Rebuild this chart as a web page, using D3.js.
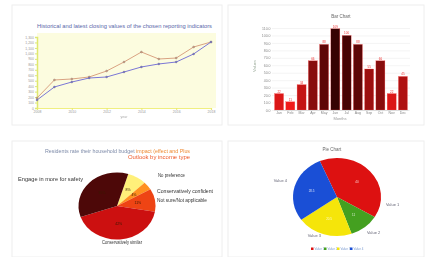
<!DOCTYPE html>
<html>
<head>
<meta charset="utf-8">
<script src="https://cdn.jsdelivr.net/npm/d3@7"></script>
<style>
  body { margin: 0; background: #fff; }
  svg { display: block; font-family: "Liberation Sans", Arial, sans-serif; filter: blur(0.3px); }
</style>
</head>
<body>
<svg id="board" width="428" height="257"></svg>
<script>
// ---- data ----
const years = ['2008', '2009', '2010', '2011', '2012', '2013', '2014', '2015', '2016', '2017', '2018'];
const closingA = [183, 513, 531, 568, 677, 842, 1025, 897, 915, 1117, 1208];
const closingB = [146, 385, 476, 549, 568, 659, 751, 806, 842, 989, 1208];
const lineTicks = [0, 100, 200, 300, 400, 500, 600, 700, 800, 900, 1000, 1100, 1200, 1300];

const months = ['Jan', 'Feb', 'Mar', 'Apr', 'May', 'Jun', 'Jul', 'Aug', 'Sep', 'Oct', 'Nov', 'Dec'];
const monthValues = [22, 11, 34, 66, 88, 109, 100, 88, 55, 66, 22, 45];
const barTicks = [0, 10, 20, 30, 40, 50, 60, 70, 80, 90, 100, 110];

const surveyLabels = ['No preference', 'Conservatively confident', 'Not sure/Not applicable', 'Conservatively similar', 'Engage in more for safety'];
const surveyValues = [8, 4, 11, 42, 35];

const pieLabels = ['Value 1', 'Value 2', 'Value 3', 'Value 4'];
const pieValues = [40, 11, 20.5, 28.5];

const svg = d3.select('#board');

// panel frames
const panels = [[12, 5, 210, 120], [228, 5, 196, 120], [12, 141, 210, 116], [228, 141, 196, 116]];
svg.selectAll('rect.panel').data(panels).enter().append('rect')
    .attr('class', 'panel')
    .attr('x', d => d[0]).attr('y', d => d[1])
    .attr('width', d => d[2]).attr('height', d => d[3])
    .attr('fill', '#fff').attr('stroke', '#eeeeee').attr('stroke-width', 1);

// ---------- top left: line chart ----------
{
    const g = svg.append('g');
    const x = d3.scalePoint().domain(years).range([37, 211]);
    const y = d3.scaleLinear().domain([0, 1300]).range([108, 37]);

    g.append('rect').attr('x', 37).attr('y', 33).attr('width', 179).attr('height', 75)
        .attr('fill', '#fcfcdf');
    g.append('text').text('Historical and latest closing values of the chosen reporting indicators')
        .attr('x', 37).attr('y', 28).attr('textLength', 175).attr('lengthAdjust', 'spacingAndGlyphs')
        .style('font-size', '5px').attr('fill', '#5a68aa');

    const yAxis = g.append('g').attr('transform', 'translate(37,0)')
        .call(d3.axisLeft(y).tickValues(lineTicks).tickSize(2).tickPadding(1));
    yAxis.select('.domain').attr('stroke', '#dfe870').attr('stroke-width', 1.5);
    yAxis.selectAll('line').attr('stroke', '#dfe870');
    yAxis.selectAll('text').style('font-size', '3.5px').attr('fill', '#999');

    const xAxis = g.append('g').attr('transform', 'translate(0,108)')
        .call(d3.axisBottom(x).tickValues(years.filter((d, i) => i % 2 === 0)).tickSize(2).tickPadding(1));
    xAxis.select('.domain').attr('stroke', '#f0ef80').attr('stroke-width', 1.2);
    xAxis.selectAll('line').attr('stroke', '#e8e870');
    xAxis.selectAll('text').style('font-size', '3.5px').attr('fill', '#999');
    g.append('text').text('year').attr('x', 124).attr('y', 118).attr('text-anchor', 'middle')
        .style('font-size', '3.5px').attr('fill', '#aaa');

    const line = d3.line().x((d, i) => x(years[i])).y(d => y(d));
    [[closingA, '#d9a282'], [closingB, '#7a76d6']].forEach(([vals, col]) => {
        g.append('path').datum(vals).attr('d', line)
            .attr('fill', 'none').attr('stroke', col).attr('stroke-width', 1);
        g.selectAll(null).data(vals).enter().append('circle')
            .attr('cx', (d, i) => x(years[i])).attr('cy', d => y(d)).attr('r', 1)
            .attr('fill', col).attr('stroke', '#666').attr('stroke-width', 0.3);
    });
}

// ---------- top right: bar chart ----------
{
    const g = svg.append('g');
    const x = d3.scaleBand().domain(months).range([274, 408]).paddingInner(0.2).paddingOuter(0.05);
    const y = d3.scaleLinear().domain([0, 110]).range([110, 28]);
    const color = d3.scaleLinear().domain([11, 109]).range(['#f01a1a', '#360202']);

    g.append('text').text('Bar Chart').attr('x', 341).attr('y', 18).attr('text-anchor', 'middle')
        .style('font-size', '4.5px').attr('fill', '#666');

    const yAxis = g.append('g').attr('transform', 'translate(272,0)')
        .call(d3.axisLeft(y).tickValues(barTicks).tickSize(-138).tickPadding(1.5).tickFormat(d3.format('.1f')));
    yAxis.select('.domain').remove();
    yAxis.selectAll('line').attr('stroke', '#ececec').attr('stroke-width', 0.6);
    yAxis.selectAll('text').style('font-size', '3.5px').attr('fill', '#888');
    g.append('text').text('Values').attr('transform', 'translate(256,66) rotate(-90)')
        .attr('text-anchor', 'middle').style('font-size', '4px').attr('fill', '#9aaa99');

    g.selectAll('rect.bar').data(monthValues).enter().append('rect')
        .attr('class', 'bar')
        .attr('x', (d, i) => x(months[i])).attr('y', d => y(d))
        .attr('width', x.bandwidth()).attr('height', d => y(0) - y(d))
        .attr('fill', d => color(d)).attr('stroke', '#ff5555').attr('stroke-width', 0.3);
    g.selectAll('text.val').data(monthValues).enter().append('text')
        .attr('class', 'val').text(d => d)
        .attr('x', (d, i) => x(months[i]) + x.bandwidth() / 2).attr('y', d => y(d) - 1)
        .attr('text-anchor', 'middle').style('font-size', '3px').attr('fill', '#ee3333');

    const xAxis = g.append('g').attr('transform', 'translate(0,110)')
        .call(d3.axisBottom(x).tickSize(0).tickPadding(2));
    xAxis.select('.domain').attr('stroke', '#ddd');
    xAxis.selectAll('text').style('font-size', '3.5px').attr('fill', '#888');
    g.append('text').text('Months').attr('x', 340).attr('y', 120).attr('text-anchor', 'middle')
        .style('font-size', '4px').attr('fill', '#999');
}

// ---------- bottom left: survey pie ----------
{
    const cx = 117, cy = 206, rx = 38.5, ry = 33.5;
    const g = svg.append('g');
    const t1 = g.append('text').attr('x', 45).attr('y', 153).style('font-size', '4.5px');
    t1.append('tspan').text('Residents rate their household budget ').attr('fill', '#7d8aa8');
    t1.append('tspan').text('impact (effect and Plus').attr('fill', '#ee8a33');
    t1.attr('textLength', 145).attr('lengthAdjust', 'spacingAndGlyphs');
    g.append('text').text('Outlook by income type').attr('x', 128).attr('y', 159)
        .attr('textLength', 62).attr('lengthAdjust', 'spacingAndGlyphs')
        .style('font-size', '4.5px').attr('fill', '#ee5a2a');

    const colors = ['#fff07a', '#ff9020', '#ee4414', '#cc1010', '#4d0808'];
    const a0 = 17 * Math.PI / 180;
    const arcs = d3.pie().sort(null).startAngle(a0).endAngle(a0 + 2 * Math.PI)(surveyValues);
    const arc = d3.arc().innerRadius(0).outerRadius(rx);
    g.append('g').attr('transform', `translate(${cx},${cy}) scale(1,${ry / rx})`)
        .selectAll('path').data(arcs).enter().append('path')
        .attr('d', arc).attr('fill', (d, i) => colors[i]);

    const inner = d3.arc().innerRadius(rx * 0.55).outerRadius(rx * 0.55);
    g.selectAll('text.pct').data(arcs).enter().append('text')
        .attr('class', 'pct').text(d => d.data + '%')
        .attr('x', d => cx + inner.centroid(d)[0])
        .attr('y', d => cy + inner.centroid(d)[1] * ry / rx + 1)
        .attr('text-anchor', 'middle').style('font-size', '3.5px').attr('fill', '#3a1a00');

    // label layout: [x, y, anchor, width]
    const labelPos = [[158, 177, 'start', 27], [157, 193, 'start', 56], [157, 202, 'start', 50],
                      [122, 244, 'middle', 40], [83, 181, 'end', 65]];
    g.selectAll('text.lab').data(surveyLabels).enter().append('text')
        .attr('class', 'lab').text(d => d)
        .attr('x', (d, i) => labelPos[i][0]).attr('y', (d, i) => labelPos[i][1])
        .attr('text-anchor', (d, i) => labelPos[i][2])
        .attr('textLength', (d, i) => labelPos[i][3]).attr('lengthAdjust', 'spacingAndGlyphs')
        .style('font-size', '4.5px').attr('fill', '#333');
}

// ---------- bottom right: pie ----------
{
    const cx = 337, cy = 197, rx = 44, ry = 39;
    const g = svg.append('g');
    g.append('text').text('Pie Chart').attr('x', 332).attr('y', 151).attr('text-anchor', 'middle')
        .style('font-size', '4.5px').attr('fill', '#666');

    const colors = ['#dd1111', '#44a020', '#f5e50a', '#1a4fd6'];
    const a0 = -23 * Math.PI / 180;
    const arcs = d3.pie().sort(null).startAngle(a0).endAngle(a0 + 2 * Math.PI)(pieValues);
    const arc = d3.arc().innerRadius(0).outerRadius(rx);
    g.append('g').attr('transform', `translate(${cx},${cy}) scale(1,${ry / rx})`)
        .selectAll('path').data(arcs).enter().append('path')
        .attr('d', arc).attr('fill', (d, i) => colors[i]);

    const inner = d3.arc().innerRadius(rx * 0.6).outerRadius(rx * 0.6);
    g.selectAll('text.pct').data(arcs).enter().append('text')
        .attr('class', 'pct').text(d => d.data)
        .attr('x', d => cx + inner.centroid(d)[0])
        .attr('y', d => cy + inner.centroid(d)[1] * ry / rx + 1)
        .attr('text-anchor', 'middle').style('font-size', '3px').attr('fill', '#fff').attr('opacity', 0.8);

    const labelPos = [[386, 206, 'start'], [367, 234, 'start'], [321, 237, 'end'], [287, 182, 'end']];
    g.selectAll('text.lab').data(pieLabels).enter().append('text')
        .attr('class', 'lab').text(d => d)
        .attr('x', (d, i) => labelPos[i][0]).attr('y', (d, i) => labelPos[i][1])
        .attr('text-anchor', (d, i) => labelPos[i][2])
        .style('font-size', '4px').attr('fill', '#667');

    const leg = g.selectAll('g.leg').data(pieLabels).enter().append('g')
        .attr('class', 'leg').attr('transform', (d, i) => `translate(${311 + i * 13},250)`);
    leg.append('rect').attr('x', 0).attr('y', -2.5).attr('width', 2.5).attr('height', 2.5)
        .attr('fill', (d, i) => colors[i]);
    leg.append('text').text(d => d).attr('x', 3.5).attr('y', 0)
        .style('font-size', '3px').attr('fill', '#7a9ad0');
}
</script>
</body>
</html>
